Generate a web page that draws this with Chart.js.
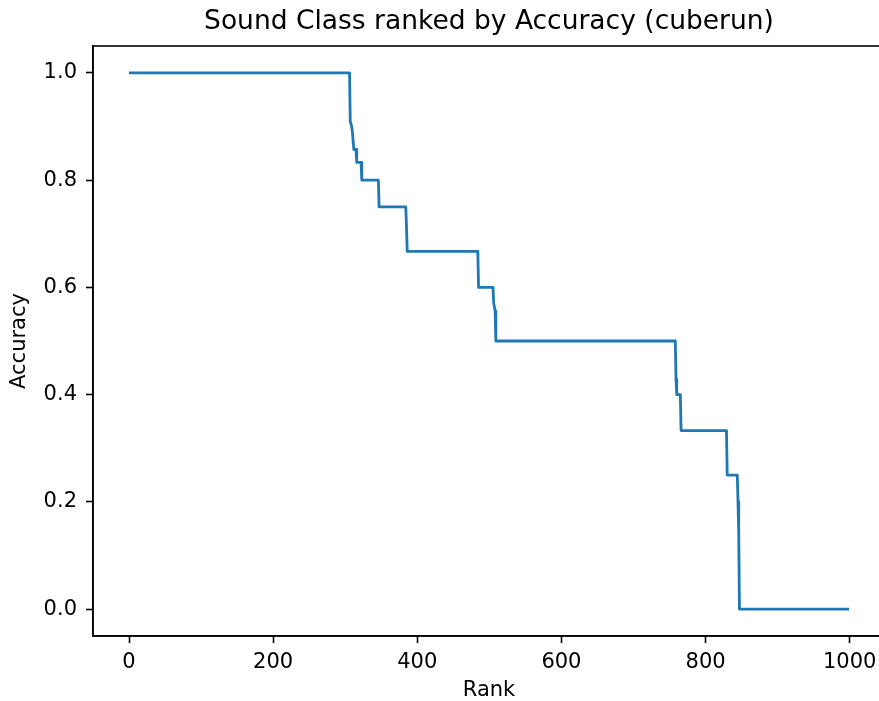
<!DOCTYPE html>
<html>
<head>
<meta charset="utf-8">
<title>Sound Class ranked by Accuracy (cuberun)</title>
<script src="https://cdn.jsdelivr.net/npm/chart.js@4/dist/chart.umd.min.js"></script>
<style>
  html, body { margin: 0; padding: 0; background: #fff; overflow: hidden; }
  #wrap { position: absolute; left: 0; top: 0; width: 900px; height: 701px; }
</style>
</head>
<body>
<div id="wrap"><canvas id="chart" width="900" height="701"></canvas></div>
<script>
// Sorted per-class accuracy, listed at the ranks where the curve changes level
const rank = [0, 306, 307, 309, 310, 312, 315, 316, 322, 323, 346, 347, 384, 385, 386, 484, 485,
              505, 506, 508, 509, 758, 759, 760, 765, 766, 829, 830, 844, 845, 846, 847, 999];
const accuracy = [1, 1, 0.909, 0.9, 0.889, 0.857, 0.857, 0.833, 0.833, 0.8, 0.8, 0.75, 0.75, 0.714, 0.667, 0.667, 0.6,
                  0.6, 0.571, 0.556, 0.5, 0.5, 0.429, 0.4, 0.4, 0.333, 0.333, 0.25, 0.25, 0.2, 0.143, 0, 0];

const xTicks = [0, 200, 400, 600, 800, 1000];
const yTicks = [0.0, 0.2, 0.4, 0.6, 0.8, 1.0];

const points = rank.map((r, i) => ({ x: r, y: accuracy[i] }));

const FONT = "'DejaVu Sans', sans-serif";
Chart.defaults.color = '#000';
Chart.defaults.font.family = FONT;

// Closed frame around the plotting area
const frame = {
  id: 'frame',
  afterDraw(chart) {
    const { ctx, chartArea: a } = chart;
    ctx.save();
    ctx.strokeStyle = '#000';
    ctx.lineWidth = 1.6;
    ctx.strokeRect(a.left, a.top, a.right - a.left, a.bottom - a.top);
    ctx.restore();
  }
};

new Chart(document.getElementById('chart'), {
  type: 'line',
  data: {
    datasets: [{
      data: points,
      borderColor: '#1f77b4',
      borderWidth: 2.8,
      pointRadius: 0,
      fill: false,
      tension: 0,
      borderJoinStyle: 'round'
    }]
  },
  options: {
    responsive: false,
    animation: false,
    events: [],
    layout: { padding: { left: 0, top: 0, right: 15, bottom: 0 } },
    plugins: {
      legend: { display: false },
      tooltip: { enabled: false },
      title: {
        display: true,
        text: 'Sound Class ranked by Accuracy (cuberun)',
        fullSize: false,
        color: '#000',
        font: { family: FONT, size: 26.5, weight: 'normal', lineHeight: 1.2 },
        padding: { top: 6.5, bottom: 7.7 }
      }
    },
    scales: {
      x: {
        type: 'linear',
        min: -49.95,
        max: 1048.95,
        afterBuildTicks(scale) { scale.ticks = xTicks.map(v => ({ value: v })); },
        afterFit(scale) { scale.height = 65; },
        ticks: {
          font: { family: FONT, size: 21 },
          color: '#000',
          padding: 7,
          maxRotation: 0,
          callback: v => String(v)
        },
        grid: { display: true, drawOnChartArea: false, drawTicks: true, tickLength: 7, tickColor: '#000', tickWidth: 1.6 },
        border: { display: true, color: '#000', width: 1.6 },
        title: {
          display: true,
          text: 'Rank',
          color: '#000',
          font: { family: FONT, size: 21, lineHeight: 1.2 },
          padding: { top: 0, bottom: -2 }
        }
      },
      y: {
        type: 'linear',
        min: -0.05,
        max: 1.05,
        afterBuildTicks(scale) { scale.ticks = yTicks.map(v => ({ value: v })); },
        afterFit(scale) { scale.width = 93; },
        ticks: {
          font: { family: FONT, size: 21 },
          color: '#000',
          padding: 9,
          callback: v => Number(v).toFixed(1)
        },
        grid: { display: true, drawOnChartArea: false, drawTicks: true, tickLength: 7, tickColor: '#000', tickWidth: 1.6 },
        border: { display: true, color: '#000', width: 1.6 },
        title: {
          display: true,
          text: 'Accuracy',
          color: '#000',
          font: { family: FONT, size: 21, lineHeight: 1.2 },
          padding: { top: 7, bottom: 0 }
        }
      }
    }
  },
  plugins: [frame]
});
</script>
</body>
</html>
